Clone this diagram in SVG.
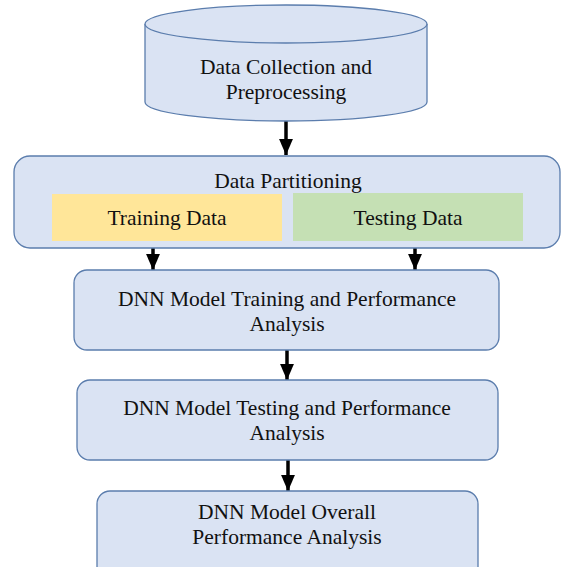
<svg xmlns="http://www.w3.org/2000/svg" width="577" height="567" viewBox="0 0 577 567">
<defs>
<style>
.box{fill:#DAE3F3;stroke:#5B7DAD;stroke-width:1.3}
.t{font-family:"Liberation Serif","Times New Roman",serif;font-size:21.5px;fill:#111;text-anchor:middle}
.c{stroke:#000;stroke-width:3.5;fill:none}
</style>
<marker id="ah" markerWidth="5" markerHeight="4" refX="4.6" refY="2" orient="auto" markerUnits="strokeWidth">
<path d="M0,0 L4.6,2 L0,4 Z" fill="#000"/>
</marker>
</defs>
<rect width="577" height="567" fill="#fff"/>
<g id="connectors">
<line class="c" x1="286" y1="121" x2="286" y2="155" marker-end="url(#ah)"/>
<line class="c" x1="153" y1="241" x2="153" y2="270" marker-end="url(#ah)"/>
<line class="c" x1="415" y1="241" x2="415" y2="270" marker-end="url(#ah)"/>
<line class="c" x1="287" y1="350" x2="287" y2="380" marker-end="url(#ah)"/>
<line class="c" x1="288" y1="460" x2="288" y2="491" marker-end="url(#ah)"/>
</g>
<g id="data-collection">
<path class="box" d="M145,24 L145,102 A141,19 0 0 0 427,102 L427,24"/>
<ellipse class="box" cx="286" cy="24" rx="141" ry="19"/>
<text class="t" x="286" y="74">Data Collection and</text>
<text class="t" x="286" y="99">Preprocessing</text>
</g>
<g id="data-partitioning">
<rect class="box" x="14" y="156" width="546" height="92" rx="16"/>
<text class="t" x="288" y="188">Data Partitioning</text>
</g>
<g id="training-data">
<rect x="52" y="194" width="230" height="47" fill="#FFE699"/>
<text class="t" x="167" y="225">Training Data</text>
</g>
<g id="testing-data">
<rect x="293" y="193" width="230" height="48" fill="#C5E0B4"/>
<text class="t" x="408" y="225">Testing Data</text>
</g>
<g id="dnn-training">
<rect class="box" x="74" y="270" width="425" height="80" rx="13"/>
<text class="t" x="287" y="306">DNN Model Training and Performance</text>
<text class="t" x="287" y="331">Analysis</text>
</g>
<g id="dnn-testing">
<rect class="box" x="77" y="380" width="421" height="80" rx="13"/>
<text class="t" x="287" y="415">DNN Model Testing and Performance</text>
<text class="t" x="287" y="440">Analysis</text>
</g>
<g id="dnn-overall">
<rect class="box" x="97" y="491" width="381" height="90" rx="13"/>
<text class="t" x="287" y="519">DNN Model Overall</text>
<text class="t" x="287" y="544">Performance Analysis</text>
</g>
</svg>
